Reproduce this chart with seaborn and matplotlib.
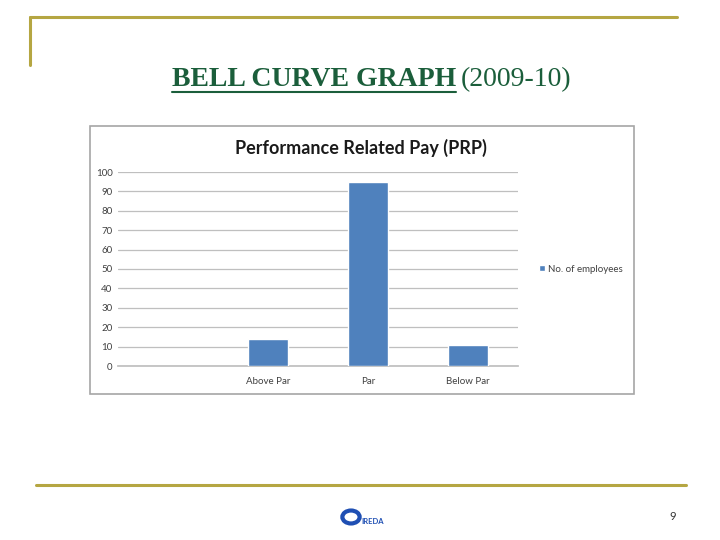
import matplotlib
matplotlib.use("Agg")
import matplotlib.pyplot as plt
from matplotlib.lines import Line2D
from matplotlib.patches import Rectangle, Circle
import seaborn as sns
import pandas as pd
import numpy as np

# data
categories = ["", "Above Par", "Par", "Below Par"]
employees = [np.nan, 14, 95, 11]
series_name = "No. of employees"
y_ticks = list(range(0, 101, 10))

slide_title = "BELL CURVE GRAPH"
slide_years = "(2009-10)"
chart_title = "Performance Related Pay (PRP)"
page_no = "9"

df = pd.DataFrame({"category": categories, "value": employees})

sns.set_theme(style="white")
plt.rcParams["font.family"] = ["Lato", "DejaVu Sans"]

W, H = 720, 540
fig = plt.figure(figsize=(7.2, 5.4), dpi=100)
fig.patch.set_facecolor("white")

def fx(px):
    return px / W

def fy(py):
    return 1 - py / H

gold = "#b5a642"
green = "#1b5e3b"

# slide frame lines
fig.add_artist(Line2D([fx(30), fx(677)], [fy(17), fy(17)], color=gold, lw=2.2))
fig.add_artist(Line2D([fx(30), fx(30)], [fy(17), fy(65)], color=gold, lw=2.2))
fig.add_artist(Line2D([fx(36), fx(686)], [fy(485), fy(485)], color=gold, lw=2.2))

# slide title with underline on first part
t1 = fig.text(fx(172), fy(80), slide_title, ha="left", va="center",
              family="Liberation Serif", fontweight="bold", fontsize=20, color=green)
fig.canvas.draw()
r = fig.canvas.get_renderer()
bb = t1.get_window_extent(r)
fig.text((bb.x1 + 5) / W, fy(80), slide_years, ha="left", va="center",
         family="Liberation Serif", fontsize=20, color=green)
fig.add_artist(Line2D([bb.x0 / W, bb.x1 / W], [fy(92), fy(92)], color=green, lw=1.5))

# embedded chart box
fig.add_artist(Rectangle((fx(90), fy(394)), fx(634) - fx(90), fy(126) - fy(394),
                         transform=fig.transFigure, fill=True, facecolor="white",
                         edgecolor="#a6a6a6", lw=1.2, zorder=0))

fig.text(fx(361), fy(148), chart_title, ha="center", va="center",
         fontsize=13, fontweight="bold", color="#1a1a1a")

ax = fig.add_axes([fx(118), fy(366), fx(518) - fx(118), fy(172) - fy(366)])
ax.set_facecolor("none")
sns.barplot(data=df, x="category", y="value", order=categories, color="#4f81bd",
            width=0.4, saturation=1, ax=ax, label=series_name, zorder=3)
ax.set_ylim(0, 100)
ax.set_yticks(y_ticks)
ax.yaxis.grid(True, color="#bfbfbf", lw=0.9, zorder=0)
ax.set_axisbelow(True)
for s in ["top", "right", "left"]:
    ax.spines[s].set_visible(False)
ax.spines["bottom"].set_color("#bfbfbf")
ax.set_xlabel("")
ax.set_ylabel("")
ax.tick_params(axis="both", labelsize=7, colors="#404040", length=0, pad=8)
ax.tick_params(axis="y", pad=4)
ax.legend(loc="center left", bbox_to_anchor=(1.03, 0.5), frameon=False,
          fontsize=7, handlelength=0.6, handleheight=0.6, handletextpad=0.4,
          labelcolor="#404040")

# footer: logo and page number
fig.add_artist(Circle((fx(351), fy(517)), 0.012, transform=fig.transFigure,
                      facecolor="white", edgecolor="#1f4fb3", lw=3))
fig.text(fx(361), fy(521), "IREDA", ha="left", va="center", fontsize=5.5,
         fontweight="bold", color="#1f4fb3")
fig.text(fx(673), fy(517), page_no, ha="center", va="center", fontsize=8,
         color="#333333")

fig.savefig("out.png", dpi=100)
